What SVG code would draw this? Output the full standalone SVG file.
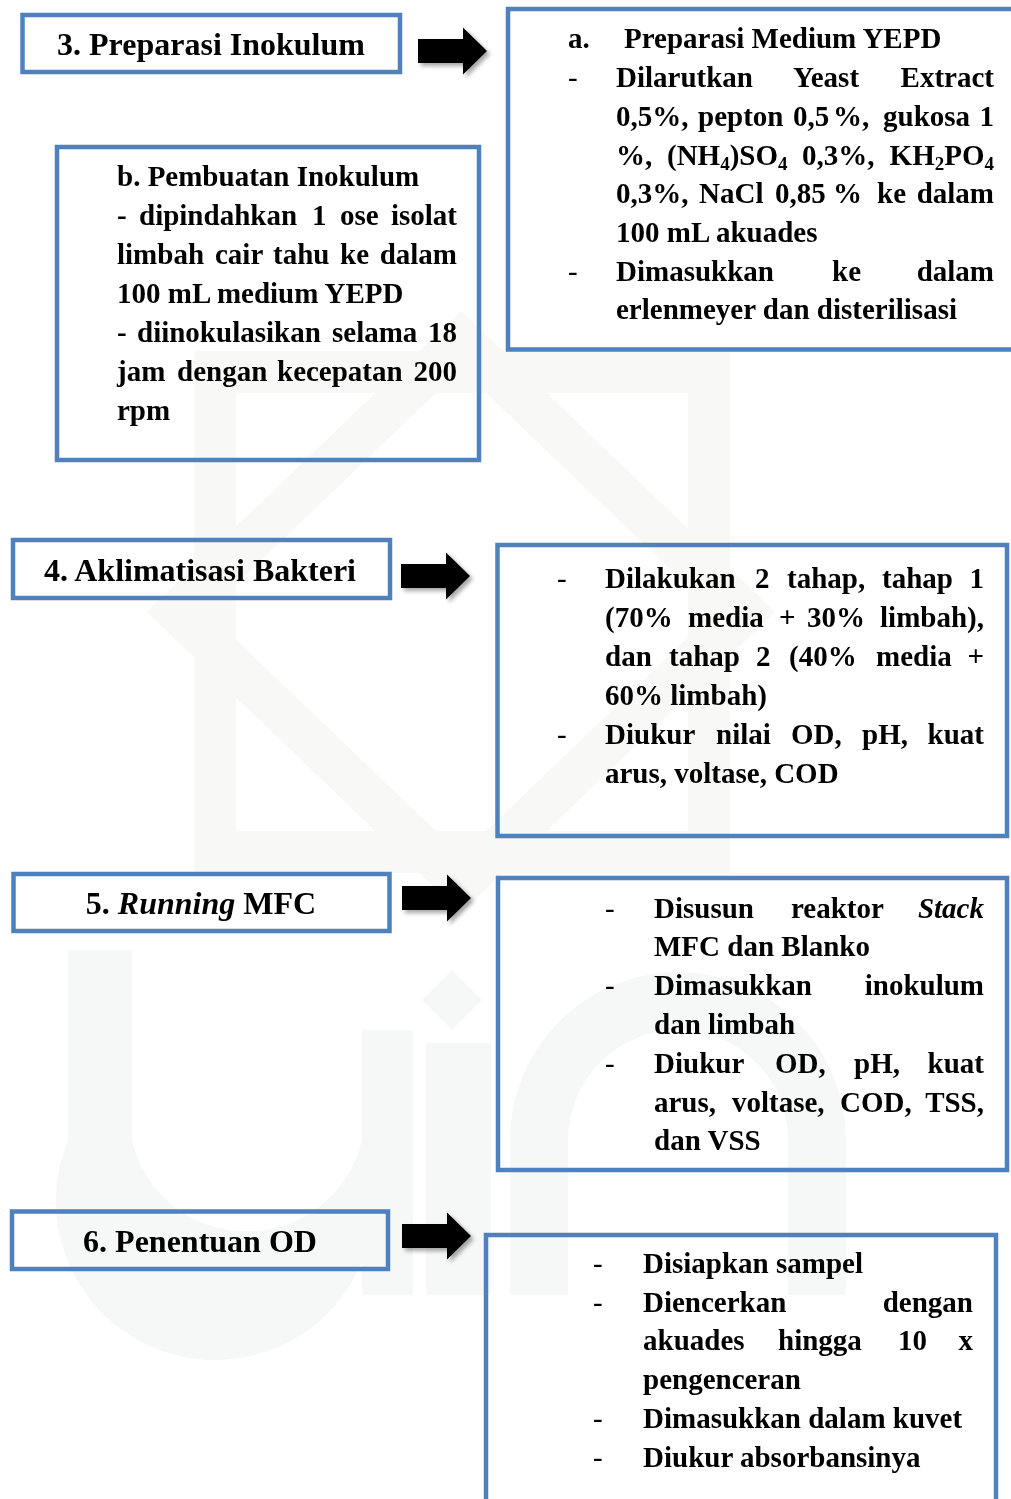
<svg xmlns="http://www.w3.org/2000/svg" width="1011" height="1499" viewBox="0 0 1011 1499">
  <defs>
    <style>
      .box { fill: none; stroke: #4f81bd; stroke-width: 4.5; }
      .t { font-family: "Liberation Serif", "Times New Roman", serif; font-weight: bold; font-size: 29px; fill: #000; }
      .h { font-family: "Liberation Serif", "Times New Roman", serif; font-weight: bold; font-size: 32px; fill: #000; }
      .e { text-anchor: end; }
      .m { text-anchor: middle; }
      .it { font-style: italic; }
      .d { font-weight: normal; }
      .wm { fill: #f5f8f6; }
      .wmk { fill: none; stroke: #f8f9f7; stroke-width: 42; }
    </style>
    <filter id="shadow" x="-20%" y="-20%" width="150%" height="150%">
      <feDropShadow dx="3" dy="3" stdDeviation="2" flood-color="#000" flood-opacity="0.35"/>
    </filter>
    <path id="blockArrow" d="M0,-12 H45 V-23.5 L69,0 L45,23.5 V12 H0 Z"/>
  </defs>

  <rect x="0" y="0" width="1011" height="1499" fill="#ffffff"/>

  <g id="watermark">
    <rect class="wmk" x="215" y="372" width="494" height="480"/>
    <path class="wmk" d="M461,340 L745,612 L461,884 L177,612 Z"/>
    <path class="wm" d="M68,950 H132 V1140 A118,118 0 0 0 362,1140 V1030 H413 V1295 H362 V1262 A150,150 0 0 1 68,1140 Z"/>
    <rect class="wm" x="426" y="1043" width="65" height="252"/>
    <path class="wm" d="M452,970 L482,1000 L452,1030 L422,1000 Z"/>
    <path class="wm" d="M510,1295 V1140 A168,168 0 0 1 846,1140 V1295 H788 V1140 A110,110 0 0 0 568,1140 V1295 Z"/>
  </g>

  <g id="connectors" filter="url(#shadow)">
    <use href="#blockArrow" x="418" y="51"/>
    <use href="#blockArrow" x="401" y="576"/>
    <use href="#blockArrow" x="402" y="898"/>
    <use href="#blockArrow" x="402" y="1236"/>
  </g>

  <g id="node-3">
    <rect class="box" x="22.5" y="15" width="377.5" height="57"/>
    <text class="h m" x="211" y="55">3. Preparasi Inokulum</text>
  </g>

  <g id="node-3a">
    <rect class="box" x="508" y="9" width="530" height="340.5"/>
    <text class="t" x="568" y="48">a.</text>
    <text class="t" x="624" y="48">Preparasi Medium YEPD</text>
    <text class="t d" x="568" y="87">-</text>
    <text class="t" x="616" y="87">Dilarutkan</text>
    <text class="t" x="793" y="87">Yeast</text>
    <text class="t e" x="994" y="87">Extract</text>
    <text class="t" x="616" y="126">0,5%,</text>
    <text class="t" x="698" y="126">pepton</text>
    <text class="t" x="793" y="126">0,5</text>
    <text class="t" x="833" y="126">%,</text>
    <text class="t" x="883" y="126">gukosa</text>
    <text class="t e" x="994" y="126">1</text>
    <text class="t" x="616" y="165">%,</text>
    <text class="t" x="667" y="165">(NH<tspan font-size="19" dy="5">4</tspan><tspan dy="-5">)SO</tspan><tspan font-size="19" dy="5">4</tspan></text>
    <text class="t" x="802" y="165">0,3%,</text>
    <text class="t e" x="994" y="165">KH<tspan font-size="19" dy="5">2</tspan><tspan dy="-5">PO</tspan><tspan font-size="19" dy="5">4</tspan></text>
    <text class="t" x="616" y="203">0,3%,</text>
    <text class="t" x="699" y="203">NaCl</text>
    <text class="t" x="775" y="203">0,85</text>
    <text class="t" x="833" y="203">%</text>
    <text class="t" x="877" y="203">ke</text>
    <text class="t e" x="994" y="203">dalam</text>
    <text class="t" x="616" y="242">100 mL akuades</text>
    <text class="t d" x="568" y="281">-</text>
    <text class="t" x="616" y="281">Dimasukkan</text>
    <text class="t" x="832" y="281">ke</text>
    <text class="t e" x="994" y="281">dalam</text>
    <text class="t" x="616" y="319">erlenmeyer dan disterilisasi</text>
  </g>

  <g id="node-3b">
    <rect class="box" x="57" y="147" width="422" height="313"/>
    <text class="t" x="117" y="186">b. Pembuatan Inokulum</text>
    <text class="t" x="117" y="225">-</text>
    <text class="t" x="139" y="225">dipindahkan</text>
    <text class="t" x="312" y="225">1</text>
    <text class="t" x="340" y="225">ose</text>
    <text class="t e" x="457" y="225">isolat</text>
    <text class="t" x="117" y="264">limbah</text>
    <text class="t" x="215" y="264">cair</text>
    <text class="t" x="273" y="264">tahu</text>
    <text class="t" x="340" y="264">ke</text>
    <text class="t e" x="457" y="264">dalam</text>
    <text class="t" x="117" y="303">100 mL medium YEPD</text>
    <text class="t" x="117" y="342">-</text>
    <text class="t" x="137" y="342">diinokulasikan</text>
    <text class="t" x="332" y="342">selama</text>
    <text class="t e" x="457" y="342">18</text>
    <text class="t" x="117" y="381">jam</text>
    <text class="t" x="177" y="381">dengan</text>
    <text class="t" x="277" y="381">kecepatan</text>
    <text class="t e" x="457" y="381">200</text>
    <text class="t" x="117" y="420">rpm</text>
  </g>

  <g id="node-4">
    <rect class="box" x="13" y="540" width="377" height="58"/>
    <text class="h m" x="200" y="581">4. Aklimatisasi Bakteri</text>
  </g>

  <g id="node-4-detail">
    <rect class="box" x="497.5" y="545" width="509.5" height="291"/>
    <text class="t d" x="557" y="588">-</text>
    <text class="t" x="605" y="588">Dilakukan</text>
    <text class="t" x="755" y="588">2</text>
    <text class="t" x="787" y="588">tahap,</text>
    <text class="t" x="882" y="588">tahap</text>
    <text class="t e" x="984" y="588">1</text>
    <text class="t" x="605" y="627">(70%</text>
    <text class="t" x="688" y="627">media</text>
    <text class="t" x="779" y="627">+</text>
    <text class="t" x="807" y="627">30%</text>
    <text class="t e" x="984" y="627">limbah),</text>
    <text class="t" x="605" y="666">dan</text>
    <text class="t" x="669" y="666">tahap</text>
    <text class="t" x="756" y="666">2</text>
    <text class="t" x="789" y="666">(40%</text>
    <text class="t" x="876" y="666">media</text>
    <text class="t e" x="984" y="666">+</text>
    <text class="t" x="605" y="705">60% limbah)</text>
    <text class="t d" x="557" y="744">-</text>
    <text class="t" x="605" y="744">Diukur</text>
    <text class="t" x="716" y="744">nilai</text>
    <text class="t" x="791" y="744">OD,</text>
    <text class="t" x="862" y="744">pH,</text>
    <text class="t e" x="984" y="744">kuat</text>
    <text class="t" x="605" y="783">arus, voltase, COD</text>
  </g>

  <g id="node-5">
    <rect class="box" x="13.5" y="874" width="376" height="57"/>
    <text class="h m" x="201" y="914">5. <tspan class="it">Running</tspan> MFC</text>
  </g>

  <g id="node-5-detail">
    <rect class="box" x="498" y="878" width="509" height="292"/>
    <text class="t d" x="605" y="918">-</text>
    <text class="t" x="654" y="918">Disusun</text>
    <text class="t" x="791" y="918">reaktor</text>
    <text class="t e it" x="984" y="918">Stack</text>
    <text class="t" x="654" y="956">MFC dan Blanko</text>
    <text class="t d" x="605" y="995">-</text>
    <text class="t" x="654" y="995">Dimasukkan</text>
    <text class="t e" x="984" y="995">inokulum</text>
    <text class="t" x="654" y="1034">dan limbah</text>
    <text class="t d" x="605" y="1073">-</text>
    <text class="t" x="654" y="1073">Diukur</text>
    <text class="t" x="775" y="1073">OD,</text>
    <text class="t" x="854" y="1073">pH,</text>
    <text class="t e" x="984" y="1073">kuat</text>
    <text class="t" x="654" y="1112">arus,</text>
    <text class="t" x="732" y="1112">voltase,</text>
    <text class="t" x="840" y="1112">COD,</text>
    <text class="t e" x="984" y="1112">TSS,</text>
    <text class="t" x="654" y="1150">dan VSS</text>
  </g>

  <g id="node-6">
    <rect class="box" x="12" y="1211.5" width="376" height="57.5"/>
    <text class="h m" x="200" y="1252">6. Penentuan OD</text>
  </g>

  <g id="node-6-detail">
    <rect class="box" x="486" y="1235" width="510" height="300"/>
    <text class="t d" x="593" y="1273">-</text>
    <text class="t" x="643" y="1273">Disiapkan sampel</text>
    <text class="t d" x="593" y="1312">-</text>
    <text class="t" x="643" y="1312">Diencerkan</text>
    <text class="t e" x="973" y="1312">dengan</text>
    <text class="t" x="643" y="1350">akuades</text>
    <text class="t" x="778" y="1350">hingga</text>
    <text class="t" x="898" y="1350">10</text>
    <text class="t e" x="973" y="1350">x</text>
    <text class="t" x="643" y="1389">pengenceran</text>
    <text class="t d" x="593" y="1428">-</text>
    <text class="t" x="643" y="1428">Dimasukkan dalam kuvet</text>
    <text class="t d" x="593" y="1467">-</text>
    <text class="t" x="643" y="1467">Diukur absorbansinya</text>
  </g>
</svg>
